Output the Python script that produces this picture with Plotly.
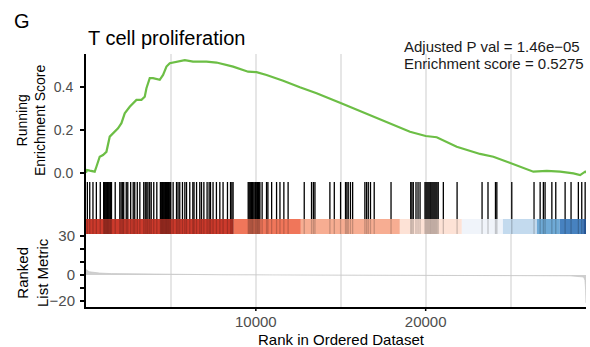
import plotly.graph_objects as go

# ---------------- data ----------------
n_genes = 29440

es_rank = [0, 59, 218, 513, 613, 807, 1002, 1202, 1397, 1591, 1886, 2086, 2281, 2575, 2970,
           3265, 3459, 3559, 3754, 3948, 4343, 4538, 4738, 4932, 5327, 5816, 6305, 7095,
           7684, 8663, 9547, 10042, 10631, 11609, 12593, 13577, 15027, 16524, 17897, 19076,
           20001, 20649, 21828, 23201, 23985, 25010, 26342, 27132, 27915, 28699, 29094, 29389, 29440]
es_val = [0.0, 0.013, 0.010, 0.005, 0.028, 0.075, 0.083, 0.098, 0.169, 0.185, 0.208, 0.232,
          0.278, 0.309, 0.341, 0.341, 0.356, 0.396, 0.443, 0.443, 0.435, 0.458, 0.497, 0.513,
          0.520, 0.5275, 0.520, 0.520, 0.516, 0.497, 0.473, 0.471, 0.458, 0.431, 0.400, 0.372,
          0.325, 0.275, 0.232, 0.192, 0.172, 0.166, 0.122, 0.088, 0.075, 0.044, 0.005, 0.009,
          0.005, -0.003, -0.011, 0.005, 0.0]

hits = [80, 220, 410, 610, 840, 1040, 1080, 1130, 1170, 1220, 1260, 1310, 1350, 1400, 1450,
        1500, 1720, 1990, 2070, 2160, 2220, 2370, 2460, 2630, 2780, 2870, 3020, 3170, 3400,
        3490, 3580, 3650, 3750, 3840, 3990, 4170, 4380, 4420, 4460, 4510, 4550, 4600, 4640,
        4690, 4730, 4770, 4810, 4860, 4900, 4950, 4990, 5130, 5330, 5420, 5520, 5680, 5820,
        5920, 6110, 6290, 6360, 6510, 6700, 6800, 6940, 7130, 7250, 7330, 7480, 7680, 7880,
        8070, 8330, 8510, 8590, 8660, 9550, 9600, 9650, 9700, 9750, 9800, 9840, 9900, 9970,
        10010, 10060, 10100, 10150, 10200, 10240, 10370, 10630, 10710, 10930, 11220, 11420,
        11650, 11900, 12850, 13280, 13390, 13480, 14360, 14620, 14990, 15280, 15360, 15440,
        15570, 15700, 16420, 16520, 16620, 16750, 16970, 17960, 19120, 19190, 19270, 19430,
        19550, 19670, 19960, 20020, 20080, 20140, 20200, 20260, 20310, 20370, 20430, 20490,
        20550, 20610, 20670, 20740, 21040, 21850, 23320, 23670, 24110, 24190, 25070, 26380,
        26740, 26930, 27030, 27430, 27660, 28210, 28560, 28990, 29190, 29390]

band_edges = [0, 8700, 12650, 18480, 22130, 24550, 26550, 27900, 29270, 29440]
band_colors = ["#CC3A2C", "#F0765A", "#F7AD92", "#FDE2D6", "#F0F4FA",
               "#C3DAEE", "#6FAAD6", "#4782C0", "#2C62A8"]

metric_rank = [0, 60, 200, 400, 800, 1500, 2500, 3500, 5000, 8000, 11000, 14000, 20000,
               25000, 28500, 29300, 29380, 29420, 29440]
metric_val = [4.5, 3.5, 2.5, 2.0, 1.5, 1.1, 0.9, 0.7, 0.4, 0.2, 0.1, 0.02, -0.05,
              -0.2, -0.6, -1.5, -4, -12, -21.5]

es_ticks = [0.0, 0.2, 0.4]
es_ticktext = ["0.0", "0.2", "0.4"]
metric_ticks = [-20, -10, 0, 10, 20, 30]
metric_ticktext = ["\u221220", "", "0", "", "", "30"]
x_ticks = [10000, 20000]
x_ticktext = ["10000", "20000"]
x_minor = [5000, 15000, 25000]

title = "T cell proliferation"
stat_lines = ["Adjusted P val = 1.46e\u221205", "Enrichment score = 0.5275"]

# ---------------- figure ----------------
BAND_TOP = 0.278
TICK_TOP = 0.963
FONT = "Liberation Sans, Arial, sans-serif"
GRID = "#E6E6E6"

fig = go.Figure()

# running ES
fig.add_trace(go.Scatter(x=es_rank, y=es_val, mode="lines",
                         line=dict(color="#6CBE45", width=2.2),
                         xaxis="x", yaxis="y", hoverinfo="skip"))

# colour band
for i, c in enumerate(band_colors):
    x0, x1 = band_edges[i], band_edges[i + 1]
    fig.add_trace(go.Scatter(x=[x0, x1, x1, x0, x0], y=[0, 0, BAND_TOP, BAND_TOP, 0],
                             mode="lines", fill="toself", fillcolor=c,
                             line=dict(width=0, color=c),
                             xaxis="x2", yaxis="y2", hoverinfo="skip"))

# hit ticks
tx, ty, bx, by = [], [], [], []
for h in hits:
    tx += [h, h, None]
    ty += [BAND_TOP, TICK_TOP, None]
    bx += [h, h, None]
    by += [0, BAND_TOP, None]
fig.add_trace(go.Scatter(x=tx, y=ty, mode="lines", line=dict(color="black", width=1.3),
                         xaxis="x2", yaxis="y2", hoverinfo="skip"))
fig.add_trace(go.Scatter(x=bx, y=by, mode="lines", line=dict(color="rgba(0,0,0,0.2)", width=1.3),
                         xaxis="x2", yaxis="y2", hoverinfo="skip"))

# ranked list metric
fig.add_trace(go.Scatter(x=metric_rank, y=metric_val, mode="lines", fill="tozeroy",
                         fillcolor="#CFCFCF", line=dict(color="#C8C8C8", width=0.8),
                         xaxis="x3", yaxis="y3", hoverinfo="skip"))

xcommon = dict(range=[0, n_genes], tickvals=x_ticks, ticktext=x_ticktext, showgrid=True,
               gridcolor=GRID, gridwidth=1.6, zeroline=False,
               minor=dict(tickvals=x_minor, showgrid=True, gridcolor=GRID, gridwidth=1.6, ticks=""))

fig.update_layout(
    width=590, height=347,
    margin=dict(l=86, r=4, t=54, b=40),
    paper_bgcolor="white", plot_bgcolor="white",
    showlegend=False,
    font=dict(family=FONT, size=14, color="#4D4D4D"),
    xaxis=dict(**xcommon, anchor="y", showticklabels=False, ticks=""),
    xaxis2=dict(**xcommon, anchor="y2", showticklabels=False, ticks="", matches="x"),
    xaxis3=dict(**xcommon, anchor="y3", ticks="", showline=True, linecolor="black", linewidth=2,
                tickfont=dict(size=15, color="#4D4D4D"), matches="x"),
    yaxis=dict(domain=[0.502, 1], anchor="x", range=[-0.034, 0.556], tickvals=es_ticks,
               ticktext=es_ticktext, ticks="outside", ticklen=4, tickwidth=1.5, tickcolor="black",
               showline=True, linecolor="black", linewidth=2, showgrid=False, zeroline=False,
               tickfont=dict(size=14, color="#4D4D4D"), ticklabelstandoff=4),
    yaxis2=dict(domain=[0.2885, 0.502], anchor="x2", range=[0, 1], showticklabels=False,
                ticks="", showline=True, linecolor="black", linewidth=2, showgrid=False,
                zeroline=False),
    yaxis3=dict(domain=[0, 0.2885], anchor="x3", range=[-24.7, 31.7], tickvals=metric_ticks,
                ticktext=metric_ticktext, ticks="outside", ticklen=4, tickwidth=1.5,
                tickcolor="black", showline=True, linecolor="black", linewidth=2,
                showgrid=False, zeroline=False, tickfont=dict(size=15, color="#4D4D4D"),
                ticklabelstandoff=2),
)

# x tick marks on the bottom axis
for v in x_ticks:
    fig.add_shape(type="line", xref="x3", yref="y3 domain", x0=v, x1=v, y0=0, y1=-0.055,
                  line=dict(color="black", width=1.5))

def paper_y(py):
    return (307 - py) / 253

def paper_x(px):
    return (px - 86) / 500

ann = []
ann.append(dict(text="G", x=paper_x(12), y=paper_y(21), xanchor="left", yanchor="middle",
                font=dict(size=20, color="black")))
ann.append(dict(text=title, x=paper_x(86), y=paper_y(38), xanchor="left", yanchor="middle",
                font=dict(size=20, color="black")))
ann.append(dict(text=stat_lines[0], x=paper_x(402), y=paper_y(46.5), xanchor="left",
                yanchor="middle", font=dict(size=15, color="#1A1A1A")))
ann.append(dict(text=stat_lines[1], x=paper_x(402), y=paper_y(63.5), xanchor="left",
                yanchor="middle", font=dict(size=15, color="#1A1A1A")))
ann.append(dict(text="Running<br>Enrichment Score", x=paper_x(31), y=paper_y(121),
                xanchor="center", yanchor="middle", textangle=-90,
                font=dict(size=14, color="black")))
ann.append(dict(text="Ranked<br>List Metric", x=paper_x(32), y=paper_y(273),
                xanchor="center", yanchor="middle", textangle=-90,
                font=dict(size=15, color="black")))
ann.append(dict(text="Rank in Ordered Dataset", x=paper_x(341), y=paper_y(339),
                xanchor="center", yanchor="middle", font=dict(size=15, color="black")))
for a in ann:
    a.update(xref="paper", yref="paper", showarrow=False)
fig.update_layout(annotations=ann)

fig.write_html("out.html")
